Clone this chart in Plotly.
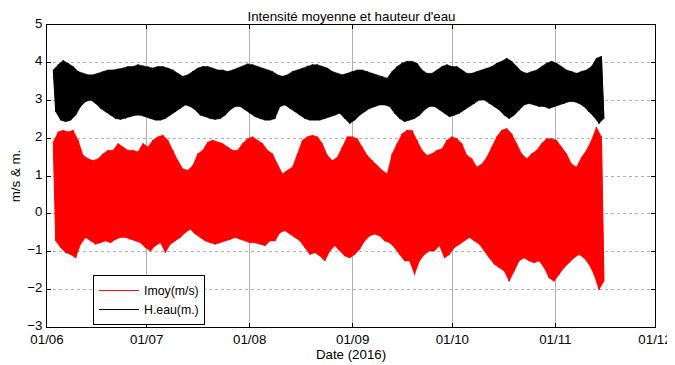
import pandas as pd
import plotly.graph_objects as go

# Sample times (every 36 h), high-tide readings at these times, low readings 18 h later
t0 = "2016-06-02 21:00"
n_samples = 111

imoy_high = [1.90,2.17,2.21,2.17,2.21,1.95,1.55,1.46,1.41,1.46,1.59,1.68,1.68,1.86,1.77,1.68,1.68,1.64,1.86,1.77,1.95,2.04,
             2.08,1.95,1.68,1.41,1.19,1.15,1.28,1.59,1.68,1.90,1.95,1.90,1.86,1.77,1.68,1.68,1.86,1.99,2.04,1.95,1.86,1.68,1.59,
             1.32,1.06,1.15,1.24,1.59,1.95,2.04,2.08,2.04,1.86,1.55,1.41,1.50,1.77,2.04,2.04,1.99,1.77,1.55,1.41,1.28,1.15,1.06,
             1.59,1.86,2.12,2.21,2.21,1.95,1.68,1.55,1.59,1.68,1.72,1.95,2.04,1.99,1.86,1.55,1.46,1.24,1.32,1.50,1.77,2.04,2.21,
             2.26,2.12,1.86,1.59,1.46,1.59,1.68,1.86,1.99,1.99,1.95,1.77,1.59,1.32,1.24,1.50,1.68,1.95,2.30,2.04]
imoy_low = [-0.72,-0.90,-1.03,-1.08,-1.17,-0.81,-0.63,-0.72,-0.81,-0.77,-0.72,-0.77,-0.68,-0.63,-0.63,-0.68,-0.72,-0.77,-0.90,-0.99,-0.85,-0.77,
            -1.03,-0.81,-0.72,-0.63,-0.50,-0.41,-0.54,-0.63,-0.72,-0.77,-0.81,-0.77,-0.72,-0.68,-0.63,-0.68,-0.72,-0.77,-0.77,-0.81,-0.85,-0.72,-0.72,
            -0.50,-0.45,-0.54,-0.63,-0.72,-0.90,-1.08,-1.03,-1.12,-1.25,-0.99,-0.85,-0.99,-1.12,-1.17,-1.08,-0.94,-0.72,-0.59,-0.54,-0.59,-0.72,-0.77,
            -0.90,-1.08,-1.25,-1.25,-1.61,-1.25,-1.08,-0.99,-0.99,-0.85,-1.17,-1.08,-0.90,-0.81,-0.72,-0.63,-0.72,-0.81,-0.99,-1.17,-1.34,-1.43,-1.52,
            -1.79,-1.52,-1.25,-1.17,-1.25,-1.30,-1.25,-1.43,-1.70,-1.79,-1.61,-1.43,-1.30,-1.17,-1.08,-1.17,-1.34,-1.61,-2.01,-1.79]
heau_high = [3.81,3.95,4.06,3.99,3.90,3.77,3.72,3.68,3.68,3.72,3.77,3.81,3.81,3.83,3.86,3.90,3.90,3.95,3.92,3.90,3.86,3.90,
             3.90,3.86,3.81,3.72,3.64,3.68,3.77,3.86,3.90,3.90,3.86,3.81,3.81,3.77,3.81,3.86,3.90,3.97,3.95,3.90,3.86,3.81,3.77,
             3.68,3.64,3.68,3.77,3.81,3.86,3.92,3.95,3.95,3.90,3.86,3.77,3.72,3.68,3.72,3.77,3.81,3.81,3.77,3.72,3.68,3.64,3.59,
             3.77,3.90,3.99,4.04,4.04,3.99,3.81,3.72,3.72,3.81,3.90,3.95,3.90,3.90,3.81,3.72,3.72,3.77,3.81,3.86,3.90,3.99,4.04,
             4.12,4.04,3.90,3.77,3.72,3.77,3.81,3.90,3.99,4.04,3.99,3.90,3.81,3.77,3.72,3.77,3.81,3.90,4.12,4.17]
heau_low = [2.70,2.48,2.44,2.48,2.61,2.84,2.97,3.01,2.92,2.79,2.70,2.61,2.52,2.50,2.52,2.57,2.61,2.61,2.57,2.52,2.48,2.48,
            2.52,2.61,2.70,2.79,2.88,2.84,2.75,2.61,2.57,2.52,2.50,2.52,2.61,2.75,2.84,2.84,2.75,2.66,2.57,2.52,2.48,2.48,2.52,
            2.84,2.88,2.79,2.70,2.61,2.52,2.48,2.48,2.48,2.52,2.57,2.61,2.66,2.52,2.39,2.48,2.61,2.70,2.79,2.84,2.88,2.88,2.84,
            2.66,2.52,2.44,2.48,2.52,2.61,2.75,2.84,2.84,2.75,2.66,2.57,2.61,2.66,2.75,2.84,2.92,3.01,3.01,2.92,2.84,2.75,2.61,
            2.52,2.61,2.75,2.88,2.92,2.88,2.84,2.84,2.79,2.84,2.88,2.92,2.97,2.97,2.92,2.84,2.70,2.57,2.39,2.52]

month_ticks = ["2016-06-01", "2016-07-01", "2016-08-01", "2016-09-01", "2016-10-01", "2016-11-01", "2016-12-01"]
month_labels = ["01/06", "01/07", "01/08", "01/09", "01/10", "01/11", "01/12"]

t_high = pd.date_range(t0, periods=n_samples, freq="36h")
t_low = t_high + pd.Timedelta(hours=18)


def zig(hi, lo):
    xs, ys = [], []
    for th, tl, h, l in zip(t_high, t_low, hi, lo):
        xs += [th, tl]
        ys += [h, l]
    return xs, ys


def band(hi, lo):
    xs = list(t_high) + list(t_low)[::-1]
    ys = list(hi) + list(lo)[::-1]
    return xs, ys


FONT = "Liberation Sans, Arial, sans-serif"
FS = 13.3
fig = go.Figure()
for name, hi, lo, col in [("Imoy(m/s)", imoy_high, imoy_low, "#ff0000"),
                          ("H.eau(m.)", heau_high, heau_low, "#000000")]:
    bx, by = band(hi, lo)
    fig.add_trace(go.Scatter(x=bx, y=by, fill="toself", fillcolor=col, mode="lines",
                             line=dict(width=0.5, color=col), showlegend=False, hoverinfo="skip"))
    zx, zy = zig(hi, lo)
    fig.add_trace(go.Scatter(x=zx, y=zy, mode="lines", name=name,
                             line=dict(width=1, color=col)))

fig.update_layout(
    width=667, height=357,
    margin=dict(l=39, r=20, t=17, b=38),
    paper_bgcolor="white", plot_bgcolor="white",
    font=dict(family=FONT, size=FS, color="black"),
    title=dict(text="Intensité moyenne et hauteur d'eau", x=0.515, xanchor="center",
               y=0.978, yanchor="middle", font=dict(size=FS)),
    legend=dict(x=0.0757, y=0.172, xanchor="left", yanchor="top",
                bordercolor="black", borderwidth=1, bgcolor="white",
                font=dict(size=12.3), tracegroupgap=0, itemwidth=40),
    xaxis=dict(range=["2016-06-01", "2016-12-01"], tickvals=month_ticks, ticktext=month_labels,
               showline=True, linecolor="black", linewidth=1, mirror="ticks",
               ticks="inside", ticklen=4, tickcolor="black", automargin=False,
               showgrid=True, gridcolor="#b0b0b0", gridwidth=1, zeroline=False,
               title=dict(text="Date (2016)", standoff=2, font=dict(size=FS))),
    yaxis=dict(range=[-3, 5], dtick=1, tick0=-3,
               showline=True, linecolor="black", linewidth=1, mirror="ticks",
               ticks="inside", ticklen=4, tickcolor="black", automargin=False,
               ticklabelshift=-2, ticklabelstandoff=1,
               showgrid=True, gridcolor="#b0b0b0", griddash="dot", gridwidth=1, zeroline=False,
               title=dict(text="m/s & m.", standoff=10, font=dict(size=FS))),
)
fig.write_html("out.html")
